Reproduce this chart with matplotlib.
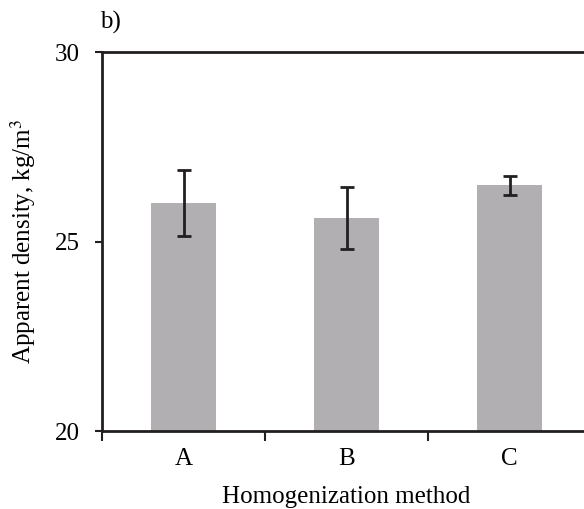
import matplotlib
matplotlib.use("Agg")
import matplotlib.pyplot as plt

methods = ["A", "B", "C"]
density = [26.02, 25.62, 26.48]
density_err = [0.87, 0.82, 0.25]

plt.rcParams['font.family'] = ['Liberation Serif', 'DejaVu Serif']
plt.rcParams['font.size'] = 18
plt.rcParams['mathtext.fontset'] = 'stix'

fig = plt.figure(figsize=(5.84, 5.09), dpi=100)
ax = fig.add_axes([0.1747, 0.1532, 0.8373, 0.7446])

x = list(range(len(methods)))
ax.bar(x, [d - 20 for d in density], bottom=20, width=0.4, color="#b1afb2",
       yerr=density_err, capsize=5,
       error_kw=dict(ecolor="#231f20", elinewidth=2, capthick=2))

ax.set_xlim(-0.5, 2.5)
ax.set_ylim(20, 30)
ax.set_yticks([20, 25, 30])
ax.set_xticks([-0.5, 0.5, 1.5])
ax.set_xticklabels([])
ax.set_xticks(x, minor=True)
ax.set_xticklabels(methods, minor=True)
ax.tick_params(axis="x", which="minor", length=0, pad=12)
ax.tick_params(axis="x", which="major", length=7, width=1.5, direction="out", color="#231f20")
ax.tick_params(axis="y", length=5, width=1.5, direction="out", color="#231f20", pad=11)
for s in ["left", "top", "bottom", "right"]:
    ax.spines[s].set_linewidth(2)
    ax.spines[s].set_color("#231f20")

ax.set_xlabel("Homogenization method", labelpad=12)
ax.set_ylabel("Apparent density, kg/m$^3$", labelpad=12)
fig.text(0.171, 0.943, "b)", fontsize=18)

fig.savefig("out.png", dpi=100)
